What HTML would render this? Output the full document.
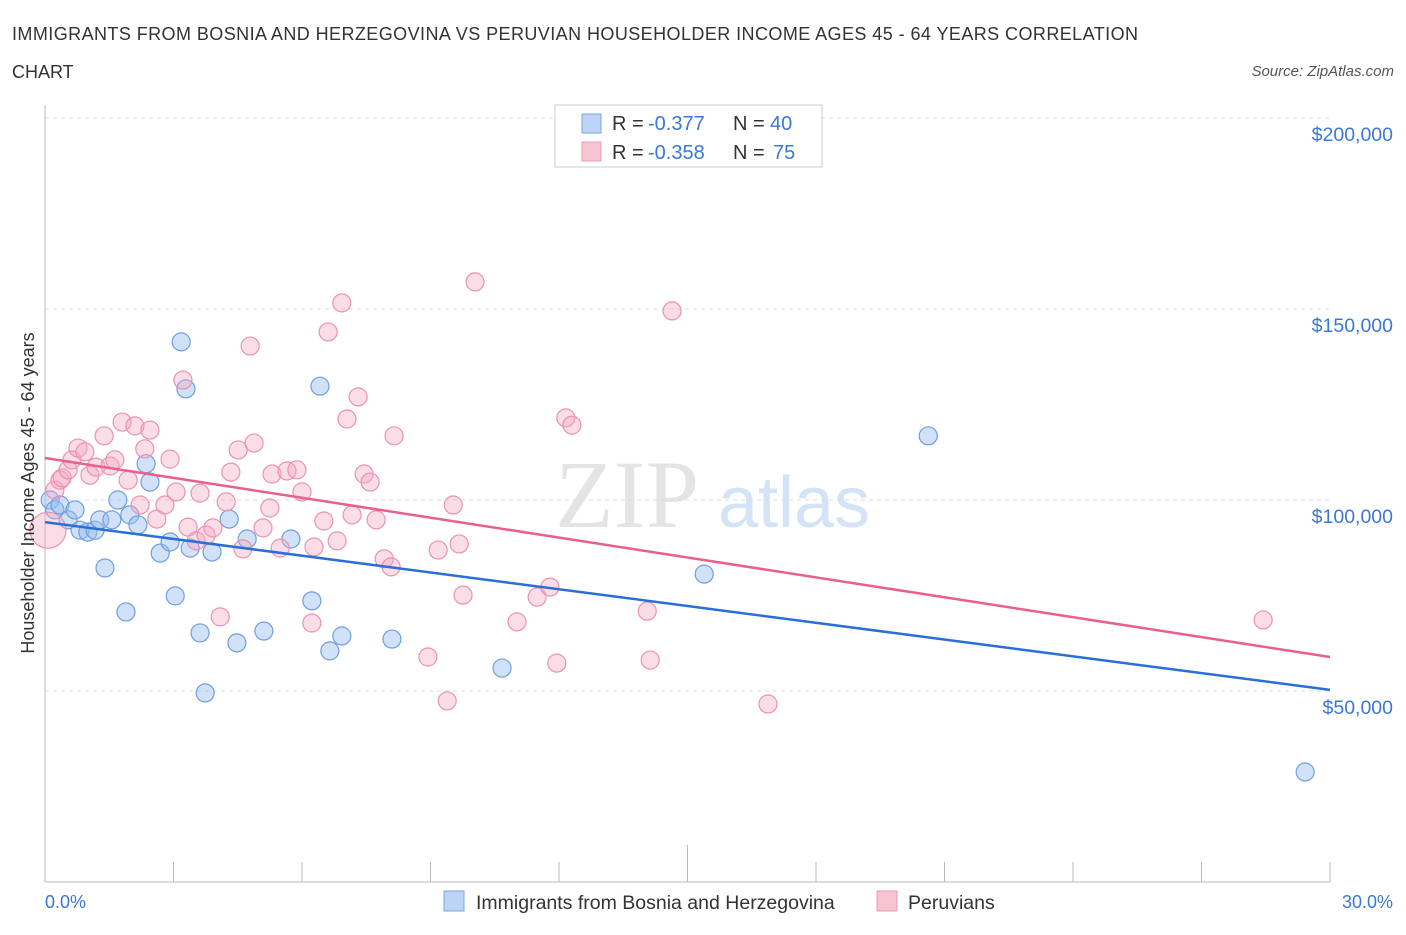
<!DOCTYPE html>
<html><head><meta charset="utf-8"><style>
body{margin:0;background:#fff;font-family:"Liberation Sans",sans-serif;}
</style></head><body>
<svg width="1406" height="930" xmlns="http://www.w3.org/2000/svg">
<text x="12" y="40" font-size="18" fill="#333" textLength="1126">IMMIGRANTS FROM BOSNIA AND HERZEGOVINA VS PERUVIAN HOUSEHOLDER INCOME AGES 45 - 64 YEARS CORRELATION</text>
<text x="12" y="78" font-size="18" fill="#333">CHART</text>
<text x="1394" y="76" font-size="15" fill="#555" font-style="italic" text-anchor="end">Source: ZipAtlas.com</text>
<text x="555" y="527" font-size="96" fill="#e4e4e4" font-family="Liberation Serif">ZIP</text>
<text x="718" y="527" font-size="72" fill="#d4e3f5">atlas</text>
<g id="grid"></g>
<g id="axes"></g>
<g id="pts"></g>
<g id="trends"></g>
<text transform="translate(34,493) rotate(-90)" font-size="18" fill="#333" text-anchor="middle">Householder Income Ages 45 - 64 years</text>
<text x="45" y="908" font-size="18" fill="#3a78d6">0.0%</text>
<text x="1393" y="908" font-size="18" fill="#3a78d6" text-anchor="end">30.0%</text>
<g>
<rect x="555" y="105" width="267" height="62" fill="#fff" stroke="#ccc"/>
<rect x="582" y="114" width="19" height="19" fill="#bcd4f6" stroke="#7aa6e0"/>
<rect x="582" y="142" width="19" height="19" fill="#f8c4d4" stroke="#eb9ab4"/>
<text x="612" y="130" font-size="20" fill="#333">R =</text>
<text x="648" y="130" font-size="20" fill="#3a78d6">-0.377</text>
<text x="733" y="130" font-size="20" fill="#333">N =</text>
<text x="770" y="130" font-size="20" fill="#3a78d6">40</text>
<text x="612" y="159" font-size="20" fill="#333">R =</text>
<text x="648" y="159" font-size="20" fill="#3a78d6">-0.358</text>
<text x="733" y="159" font-size="20" fill="#333">N =</text>
<text x="773" y="159" font-size="20" fill="#3a78d6">75</text>
</g>
<g>
<rect x="444" y="891" width="20" height="20" fill="#bcd4f6" stroke="#7aa6e0"/>
<text x="476" y="909" font-size="19.5" fill="#333">Immigrants from Bosnia and Herzegovina</text>
<rect x="877" y="891" width="20" height="20" fill="#f8c4d4" stroke="#eb9ab4"/>
<text x="908" y="909" font-size="19.5" fill="#333">Peruvians</text>
</g>
</svg>
<script>
const yTicks=[50,100,150,200];
const yTickLabels=["$50,000","$100,000","$150,000","$200,000"];
const xTicks=[0,3,6,9,12,15,18,21,24,27,30];
const blueX=[0.12,0.23,0.35,0.54,0.70,0.82,1.00,1.17,1.28,1.40,1.56,1.70,1.89,1.98,2.17,2.36,2.45,2.69,2.92,3.04,3.18,3.29,3.39,3.62,3.74,3.90,4.30,4.48,4.72,5.11,5.74,6.23,6.42,6.65,6.93,8.10,10.67,15.39,20.62,29.42];
const blueY=[100.0,97.4,98.7,94.8,97.4,92.1,91.6,92.1,94.8,82.2,94.8,100.0,70.7,96.1,93.5,109.5,104.7,86.1,89.0,74.9,141.4,129.1,87.4,65.2,49.5,86.4,95.0,62.6,89.8,65.7,89.8,73.6,129.8,60.5,64.4,63.6,56.0,80.6,116.8,28.8];
const pinkX=[0.07,0.23,0.35,0.40,0.54,0.63,0.77,0.93,1.05,1.19,1.38,1.52,1.63,1.80,1.94,2.10,2.22,2.33,2.45,2.61,2.80,2.92,3.06,3.22,3.34,3.53,3.62,3.76,3.92,4.09,4.23,4.34,4.51,4.62,4.79,4.88,5.09,5.25,5.30,5.49,5.65,5.88,6.00,6.23,6.28,6.51,6.61,6.82,6.93,7.05,7.17,7.31,7.45,7.59,7.73,7.92,8.08,8.15,8.94,9.18,9.39,9.53,9.67,9.76,10.04,11.02,11.49,11.79,11.95,12.16,12.30,14.06,14.13,14.64,16.88,28.44];
const pinkY=[92.1,102.6,105.2,105.8,107.9,110.5,113.6,112.6,106.5,108.6,116.8,108.9,110.5,120.4,105.2,119.4,98.7,113.4,118.3,95.0,98.7,110.7,102.1,131.4,92.9,89.3,101.8,90.8,92.7,69.4,99.5,107.3,113.1,87.2,140.3,114.9,92.7,97.9,106.8,87.4,107.6,107.9,102.1,67.8,87.7,94.5,144.0,89.3,151.6,121.2,96.1,127.0,106.8,104.7,94.8,84.6,82.5,116.8,58.9,86.9,47.4,98.7,88.5,75.1,157.1,68.1,74.6,77.2,57.3,121.5,119.6,70.9,58.1,149.5,46.6,68.6];
const blueTrend=[94.2,50.3];
const pinkTrend=[111.0,58.9];
const trendX=[0,30];
const NS="http://www.w3.org/2000/svg";
const X=v=>45+v*(1285/30);
const Y=v=>882-v*(764/200);
function mk(tag,attrs,parent){const e=document.createElementNS(NS,tag);for(const k in attrs)e.setAttribute(k,attrs[k]);parent.appendChild(e);return e;}
const grid=document.getElementById('grid'),axes=document.getElementById('axes'),pts=document.getElementById('pts'),tr=document.getElementById('trends');
yTicks.forEach((t,i)=>{
 const l=mk('line',{x1:45,x2:1330,y1:Y(t),y2:Y(t),stroke:'#ddd','stroke-dasharray':'4,4'},grid);
 
 
 const tx=mk('text',{x:1393,y:Y(t)+23,'font-size':19.5,fill:'#3a78d6','text-anchor':'end'},grid);
 tx.textContent=yTickLabels[i];
 
 
});
const ya=mk('line',{x1:45,x2:45,y1:105,y2:882,stroke:'#bbb'},axes);


const xa=mk('line',{x1:45,x2:1330,y1:882,y2:882,stroke:'#bbb'},axes);


xTicks.forEach(t=>{
 const l=mk('line',{x1:X(t),x2:X(t),y1:t==15?845:862,y2:882,stroke:'#bbb'},axes);
 
 
});
blueX.forEach((x,i)=>{
 const c=mk('circle',{cx:X(x),cy:Y(blueY[i]),r:9,fill:'rgba(150,188,240,0.45)',stroke:'#6f9fe0','stroke-width':1.2},pts);
 
 
});
pinkX.forEach((x,i)=>{
 const c=mk('circle',{cx:X(x),cy:Y(pinkY[i]),r:i==0?18:9,fill:'rgba(245,170,195,0.4)',stroke:'#eb92b0','stroke-width':1.2},pts);
 
 
});
const bl=mk('line',{x1:X(trendX[0]),y1:Y(blueTrend[0]),x2:X(trendX[1]),y2:Y(blueTrend[1]),stroke:'#2a6fd6','stroke-width':2.5},tr);


const pl=mk('line',{x1:X(trendX[0]),y1:Y(pinkTrend[0]),x2:X(trendX[1]),y2:Y(pinkTrend[1]),stroke:'#e8608c','stroke-width':2.5},tr);


</script>
</body></html>
